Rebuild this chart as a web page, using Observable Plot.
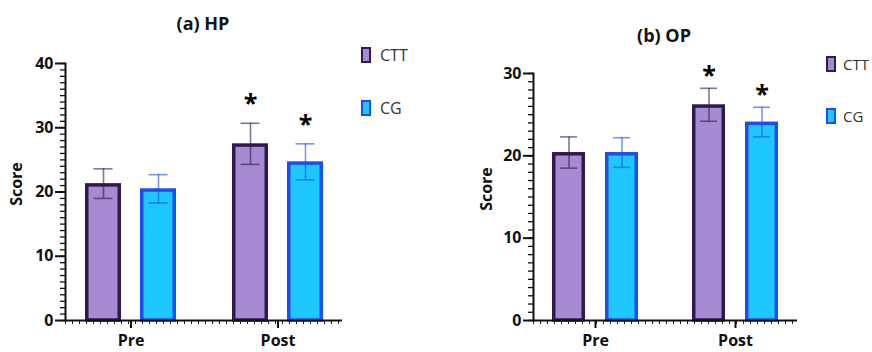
<!DOCTYPE html>
<html>
<head>
<meta charset="utf-8">
<script src="https://cdn.jsdelivr.net/npm/d3@7"></script>
<script src="https://cdn.jsdelivr.net/npm/@observablehq/plot@0.6"></script>
<style>
  body { margin: 0; background: #fff; font-family: "Open Sans", sans-serif; }
  #wrap { position: relative; width: 872px; height: 352px; overflow: hidden; }
  .panel { position: absolute; top: 0; }
  .title { position: absolute; font-weight: bold; font-size: 18px; color: #111; transform: translate(-50%, -50%); white-space: nowrap; }
  .ylab { position: absolute; font-weight: bold; font-size: 16px; color: #111; transform: translate(-50%, -50%) rotate(-90deg); white-space: nowrap; }
  .sw { position: absolute; width: 6px; height: 12px; border: 2.5px solid; }
  .lt { position: absolute; font-size: 16px; color: #333; transform: translateY(-50%); white-space: nowrap; }
</style>
</head>
<body>
<div id="wrap"></div>
<script>
// ---- data ----
const periods = ["Pre", "Post"];
const groups = ["CTT", "CG"];
const hpCTT = [21.3, 27.5];
const hpCTTsd = [2.3, 3.2];
const hpCG = [20.5, 24.7];
const hpCGsd = [2.2, 2.8];
const opCTT = [20.4, 26.2];
const opCTTsd = [1.9, 2.0];
const opCG = [20.4, 24.1];
const opCGsd = [1.8, 1.8];
const sigPeriods = ["Post"];
const hpTicks = [0, 10, 20, 30, 40];
const opTicks = [0, 10, 20, 30];

const colors = {
  CTT: { fill: "#a68ad2", stroke: "#2d1a50" },
  CG: { fill: "#1ec8ff", stroke: "#1a4ef0" }
};

function rows(ctt, cttSd, cg, cgSd) {
  const out = [];
  periods.forEach((p, i) => {
    out.push({ period: p, group: "CTT", mean: ctt[i], sd: cttSd[i], sig: sigPeriods.includes(p) });
    out.push({ period: p, group: "CG", mean: cg[i], sd: cgSd[i], sig: sigPeriods.includes(p) });
  });
  return out;
}

function panel(data, cfg) {
  const marks = [];
  const sw = 3.5;
  groups.forEach((g, gi) => {
    const d = data.filter(r => r.group === g);
    const c = colors[g];
    const barIn = cfg.band - cfg.barW + sw / 2;
    const off = (gi === 0 ? -1 : 1) * (cfg.band - cfg.barW) / 2;
    marks.push(Plot.barY(d, {
      x: "period", y: "mean", fill: c.fill, stroke: c.stroke, strokeWidth: sw,
      insetLeft: gi === 0 ? sw / 2 : barIn, insetRight: gi === 0 ? barIn : sw / 2, insetTop: sw / 2
    }));
    marks.push(Plot.ruleX(d, {
      x: "period", y1: r => r.mean - r.sd, y2: r => r.mean + r.sd,
      dx: off, stroke: c.stroke, strokeOpacity: 0.6, strokeWidth: 1.6
    }));
    for (const sgn of [1, -1]) {
      marks.push(Plot.tickY(d, {
        x: "period", y: r => r.mean + sgn * r.sd, stroke: c.stroke, strokeOpacity: 0.6, strokeWidth: 1.6,
        insetLeft: cfg.band / 2 - cfg.capW / 2 + off, insetRight: cfg.band / 2 - cfg.capW / 2 - off
      }));
    }
    marks.push(Plot.text(d.filter(r => r.sig), {
      x: "period", y: r => r.mean + r.sd, text: () => "*", dx: off, dy: cfg.starDy,
      fontSize: 25, fontWeight: "bold", fill: "#000"
    }));
  });
  marks.push(Plot.ruleY([0], { dy: 2, stroke: "#222", strokeWidth: 3, strokeDasharray: "1,6" }));
  marks.push(Plot.ruleY([0], { stroke: "#111", strokeWidth: 2 }));
  marks.push(Plot.frame({ anchor: "left", stroke: "#111", strokeWidth: 2 }));
  marks.push(Plot.axisY({ ticks: d3.range(0, cfg.yMax + 1), tickSize: 5, tickFormat: () => "", label: null, stroke: "#111", strokeWidth: 1.3 }));
  marks.push(Plot.axisY({ ticks: cfg.ticks, tickSize: 10, tickPadding: 2, label: null, stroke: "#111", strokeWidth: 2, fontSize: 16, fontWeight: "bold", fill: "#111" }));
  marks.push(Plot.axisX({ tickSize: 8, tickPadding: 6, label: null, stroke: "#111", strokeWidth: 2, fontSize: 16, fontWeight: "bold", fill: "#111" }));
  return Plot.plot({
    width: 436, height: 352,
    marginLeft: cfg.ml, marginRight: cfg.mr, marginTop: cfg.mt, marginBottom: 32,
    style: { fontFamily: "Open Sans, sans-serif", background: "transparent", overflow: "visible" },
    x: { domain: periods, paddingInner: cfg.pi, paddingOuter: cfg.po },
    y: { domain: [0, cfg.yMax] },
    marks
  });
}

const wrap = document.getElementById("wrap");
const a = panel(rows(hpCTT, hpCTTsd, hpCG, hpCGsd), { ml: 65, mr: 94, mt: 63, pi: 0.383, po: 0.129, band: 91, barW: 36, capW: 19, yMax: 40, ticks: hpTicks, starDy: -19 });
a.classList.add("panel"); a.style.left = "0px";
wrap.appendChild(a);
const b = panel(rows(opCTT, opCTTsd, opCG, opCGsd), { ml: 97, mr: 75, mt: 73, pi: 0.388, po: 0.135, band: 86, barW: 33, capW: 17, yMax: 30, ticks: opTicks, starDy: -12 });
b.classList.add("panel"); b.style.left = "436px";
wrap.appendChild(b);

function addText(cls, txt, x, y, size) {
  const el = document.createElement("div");
  el.className = cls; el.textContent = txt;
  el.style.left = x + "px"; el.style.top = y + "px";
  if (size) el.style.fontSize = size + "px";
  wrap.appendChild(el);
}
addText("title", "(a) HP", 203, 23);
addText("title", "(b) OP", 664, 35);
addText("ylab", "Score", 16, 184);
addText("ylab", "Score", 486, 189);

function legend(x, ys, gap, size) {
  groups.forEach((g, i) => {
    const s = document.createElement("div");
    s.className = "sw";
    s.style.left = x + "px"; s.style.top = ys[i] + "px";
    s.style.background = colors[g].fill; s.style.borderColor = colors[g].stroke;
    wrap.appendChild(s);
    addText("lt", g, x + gap, ys[i] + 8, size);
  });
}
legend(361, [47, 100], 19, 16);
legend(826, [56, 108], 17, 15);
</script>
</body>
</html>
